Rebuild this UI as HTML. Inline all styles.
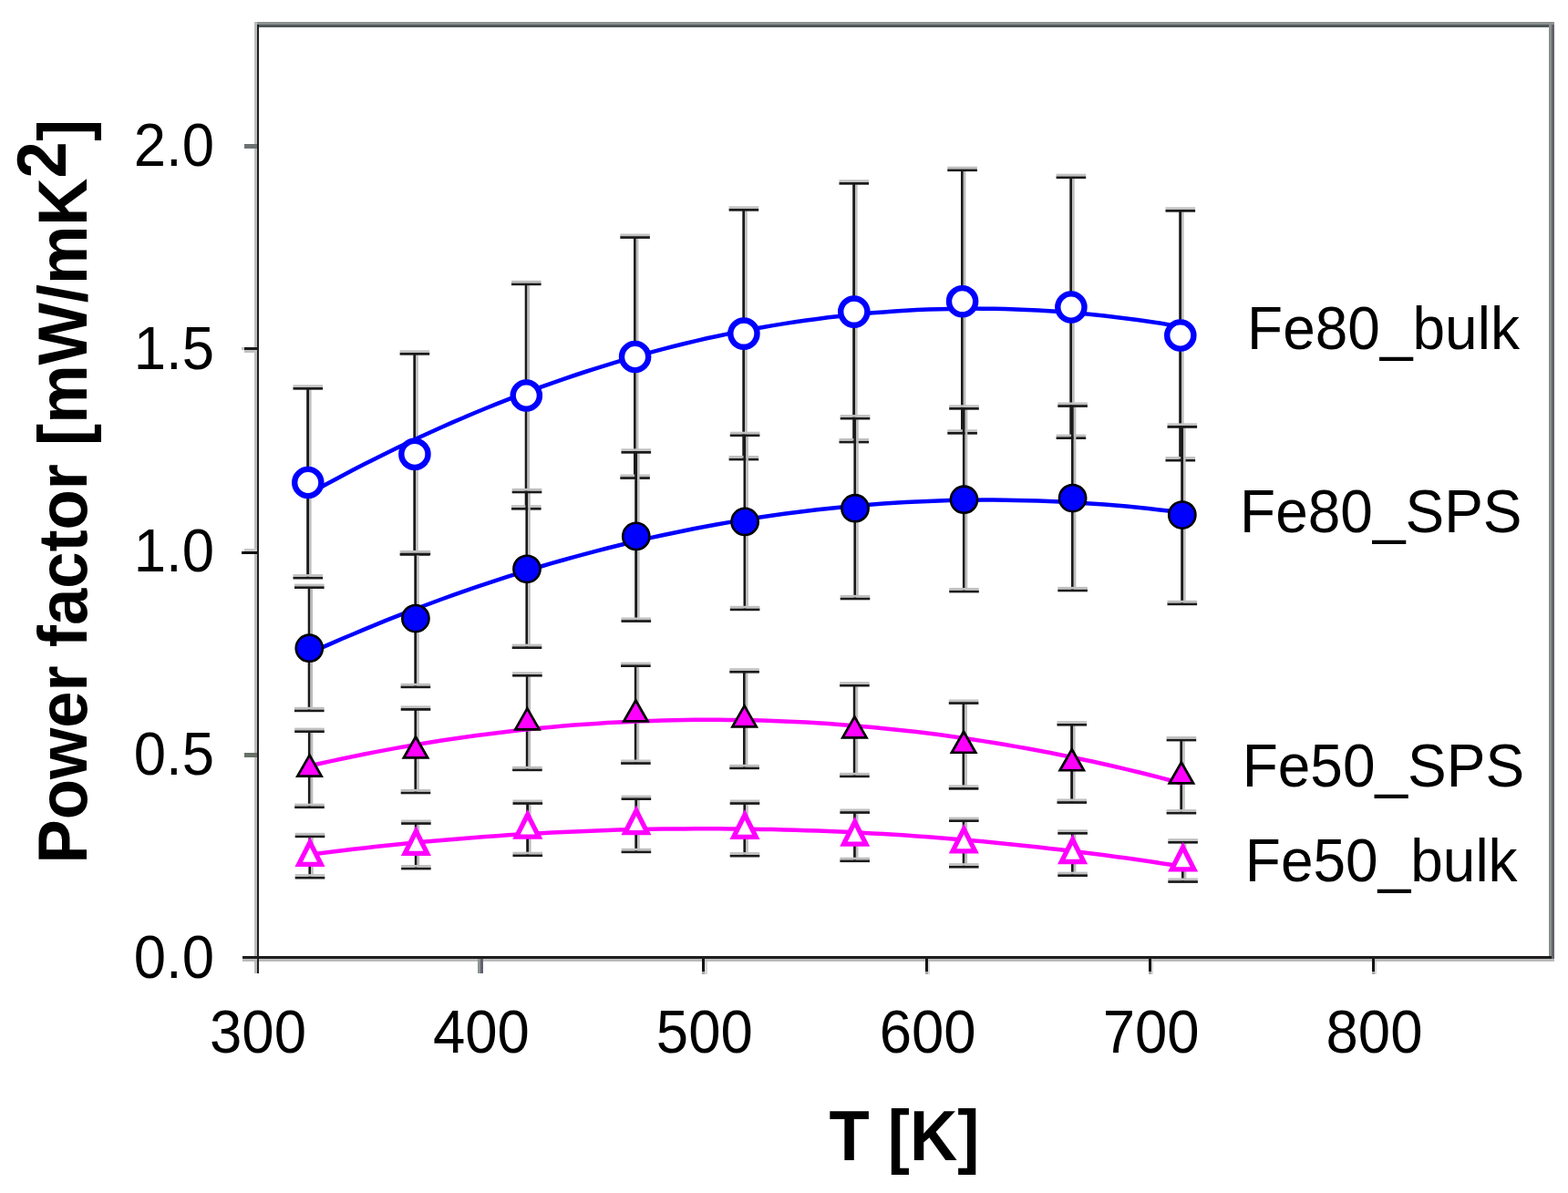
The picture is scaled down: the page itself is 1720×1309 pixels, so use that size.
<!DOCTYPE html><html><head><meta charset="utf-8"><title>Power factor vs T</title><style>html,body{margin:0;padding:0;background:#fff;}svg{display:block;}</style></head><body>
<svg width="1720" height="1309" viewBox="0 0 1720 1309">
<rect x="0" y="0" width="1720" height="1309" fill="#ffffff"/>
<g shape-rendering="crispEdges">
<rect x="279" y="24" width="1426" height="3" fill="#8c9292"/>
<rect x="282" y="27" width="1423" height="2.6" fill="#4f5757"/>
<rect x="1699.3" y="27" width="2.7" height="1025" fill="#8a9090"/>
<rect x="1702" y="27" width="2.7" height="1028" fill="#62646c"/>
<rect x="279" y="1049.2" width="1423" height="2.8" fill="#1e1e1e"/>
<rect x="279" y="1052" width="1426" height="2.8" fill="#bbbbbb"/>
<rect x="279.1" y="24" width="2.6" height="1044" fill="#bcbcbc"/>
<rect x="281.6" y="27" width="2.5" height="1041" fill="#1e1e1e"/>
<rect x="267.9" y="157.8" width="14" height="5.1" fill="#6c7272"/>
<rect x="268" y="381.1" width="14" height="2.8" fill="#1a1a1a"/>
<rect x="265.2" y="381.1" width="2.8" height="2.8" fill="#c4c4c4"/>
<rect x="268" y="383.9" width="14" height="2.7" fill="#c0c0c0"/>
<rect x="267.5" y="602.2" width="14.5" height="2.8" fill="#c8c8c8"/>
<rect x="265" y="605" width="17" height="2.7" fill="#111111"/>
<rect x="267.9" y="826" width="14" height="5" fill="#687068"/>
<rect x="265.5" y="1049.2" width="16.5" height="2.8" fill="#1e1e1e"/>
<rect x="265.5" y="1052" width="14" height="2.8" fill="#bbbbbb"/>
<rect x="524.2" y="1052" width="2.75" height="16.3" fill="#8a9494"/>
<rect x="526.9" y="1052" width="2.75" height="16.3" fill="#616170"/>
<rect x="770.0" y="1052" width="2.9" height="14" fill="#141414"/>
<rect x="770.0" y="1066" width="2.9" height="2.6" fill="#a8a8a8"/>
<rect x="772.9" y="1054.5" width="2.6" height="14" fill="#d8d8d8"/>
<rect x="1014.9" y="1052" width="2.9" height="14" fill="#141414"/>
<rect x="1014.9" y="1066" width="2.9" height="2.6" fill="#a8a8a8"/>
<rect x="1017.8" y="1054.5" width="2.6" height="14" fill="#d8d8d8"/>
<rect x="1259.8" y="1052" width="2.9" height="14" fill="#141414"/>
<rect x="1259.8" y="1066" width="2.9" height="2.6" fill="#a8a8a8"/>
<rect x="1262.7" y="1054.5" width="2.6" height="14" fill="#d8d8d8"/>
<rect x="1504.7" y="1052" width="2.9" height="14" fill="#141414"/>
<rect x="1504.7" y="1066" width="2.9" height="2.6" fill="#a8a8a8"/>
<rect x="1507.6" y="1054.5" width="2.6" height="14" fill="#d8d8d8"/>
</g>
<g font-family="'Liberation Sans', Arial, Helvetica, sans-serif" font-size="63.5" fill="#000">
<text transform="translate(235,1073.0) scale(1,1.045)" text-anchor="end">0.0</text>
<text transform="translate(235,850.2) scale(1,1.045)" text-anchor="end">0.5</text>
<text transform="translate(235,627.4) scale(1,1.045)" text-anchor="end">1.0</text>
<text transform="translate(235,404.6) scale(1,1.045)" text-anchor="end">1.5</text>
<text transform="translate(235,181.8) scale(1,1.045)" text-anchor="end">2.0</text>
<text transform="translate(283.0,1155.3) scale(1,1.045)" text-anchor="middle">300</text>
<text transform="translate(527.9,1155.3) scale(1,1.045)" text-anchor="middle">400</text>
<text transform="translate(772.8,1155.3) scale(1,1.045)" text-anchor="middle">500</text>
<text transform="translate(1017.7,1155.3) scale(1,1.045)" text-anchor="middle">600</text>
<text transform="translate(1262.6,1155.3) scale(1,1.045)" text-anchor="middle">700</text>
<text transform="translate(1507.5,1155.3) scale(1,1.045)" text-anchor="middle">800</text>
</g>
<g font-family="'Liberation Sans', Arial, Helvetica, sans-serif" font-size="64" fill="#000">
<text transform="translate(1368.1,383.1) scale(1,1.035)">Fe80_bulk</text>
<text transform="translate(1360.1,584.2) scale(1,1.035)">Fe80_SPS</text>
<text transform="translate(1362.7,863.3) scale(1,1.035)">Fe50_SPS</text>
<text transform="translate(1365.8,966.9) scale(1,1.035)">Fe50_bulk</text>
</g>
<text transform="translate(991.9,1272.7) scale(1,1.075)" text-anchor="middle" font-family="'Liberation Sans', Arial, Helvetica, sans-serif" font-size="72.4" font-weight="bold" fill="#000">T [K]</text>
<text transform="translate(95.3,947.5) rotate(-90) scale(1,1.05)" font-family="'Liberation Sans', Arial, Helvetica, sans-serif" font-size="72.4" font-weight="bold" fill="#000">Power factor [mW/mK<tspan dy="-22.5">2</tspan><tspan dy="22.5">]</tspan></text>
<g>
<rect x="336.2" y="426.0" width="2.8" height="207.8" fill="#1a1a1a"/><rect x="339.0" y="427.4" width="2.6" height="205.0" fill="#bdbdbd"/><rect x="321.5" y="424.9" width="32.6" height="2.8" fill="#1a1a1a"/><rect x="321.5" y="422.3" width="32.6" height="2.6" fill="#c0c0c0"/><rect x="321.5" y="632.7" width="32.6" height="2.8" fill="#1a1a1a"/><rect x="321.5" y="630.1" width="32.6" height="2.6" fill="#c0c0c0"/>
<rect x="453.3" y="388.0" width="2.8" height="220.0" fill="#1a1a1a"/><rect x="456.1" y="389.4" width="2.6" height="217.2" fill="#bdbdbd"/><rect x="438.6" y="386.9" width="32.6" height="2.8" fill="#1a1a1a"/><rect x="438.6" y="384.3" width="32.6" height="2.6" fill="#c0c0c0"/><rect x="438.6" y="606.9" width="32.6" height="2.8" fill="#1a1a1a"/><rect x="438.6" y="604.3" width="32.6" height="2.6" fill="#c0c0c0"/>
<rect x="575.7" y="311.5" width="2.8" height="246.4" fill="#1a1a1a"/><rect x="578.5" y="312.9" width="2.6" height="243.6" fill="#bdbdbd"/><rect x="561.0" y="310.4" width="32.6" height="2.8" fill="#1a1a1a"/><rect x="561.0" y="307.8" width="32.6" height="2.6" fill="#c0c0c0"/><rect x="561.0" y="556.8" width="32.6" height="2.8" fill="#1a1a1a"/><rect x="561.0" y="554.2" width="32.6" height="2.6" fill="#c0c0c0"/>
<rect x="695.0" y="260.2" width="2.8" height="264.0" fill="#1a1a1a"/><rect x="697.8" y="261.6" width="2.6" height="261.2" fill="#bdbdbd"/><rect x="680.3" y="259.1" width="32.6" height="2.8" fill="#1a1a1a"/><rect x="680.3" y="256.5" width="32.6" height="2.6" fill="#c0c0c0"/><rect x="680.3" y="523.1" width="32.6" height="2.8" fill="#1a1a1a"/><rect x="680.3" y="520.5" width="32.6" height="2.6" fill="#c0c0c0"/>
<rect x="814.3" y="230.0" width="2.8" height="273.7" fill="#1a1a1a"/><rect x="817.1" y="231.4" width="2.6" height="270.9" fill="#bdbdbd"/><rect x="799.6" y="228.9" width="32.6" height="2.8" fill="#1a1a1a"/><rect x="799.6" y="226.3" width="32.6" height="2.6" fill="#c0c0c0"/><rect x="799.6" y="502.6" width="32.6" height="2.8" fill="#1a1a1a"/><rect x="799.6" y="500.0" width="32.6" height="2.6" fill="#c0c0c0"/>
<rect x="935.2" y="201.0" width="2.8" height="283.7" fill="#1a1a1a"/><rect x="938.0" y="202.4" width="2.6" height="280.9" fill="#bdbdbd"/><rect x="920.5" y="199.9" width="32.6" height="2.8" fill="#1a1a1a"/><rect x="920.5" y="197.3" width="32.6" height="2.6" fill="#c0c0c0"/><rect x="920.5" y="483.6" width="32.6" height="2.8" fill="#1a1a1a"/><rect x="920.5" y="481.0" width="32.6" height="2.6" fill="#c0c0c0"/>
<rect x="1054.0" y="186.4" width="2.8" height="288.6" fill="#1a1a1a"/><rect x="1056.8" y="187.8" width="2.6" height="285.8" fill="#bdbdbd"/><rect x="1039.3" y="185.3" width="32.6" height="2.8" fill="#1a1a1a"/><rect x="1039.3" y="182.7" width="32.6" height="2.6" fill="#c0c0c0"/><rect x="1039.3" y="473.9" width="32.6" height="2.8" fill="#1a1a1a"/><rect x="1039.3" y="471.3" width="32.6" height="2.6" fill="#c0c0c0"/>
<rect x="1173.3" y="194.4" width="2.8" height="285.9" fill="#1a1a1a"/><rect x="1176.1" y="195.8" width="2.6" height="283.1" fill="#bdbdbd"/><rect x="1158.6" y="193.3" width="32.6" height="2.8" fill="#1a1a1a"/><rect x="1158.6" y="190.7" width="32.6" height="2.6" fill="#c0c0c0"/><rect x="1158.6" y="479.2" width="32.6" height="2.8" fill="#1a1a1a"/><rect x="1158.6" y="476.6" width="32.6" height="2.6" fill="#c0c0c0"/>
<rect x="1293.2" y="231.0" width="2.8" height="273.8" fill="#1a1a1a"/><rect x="1296.0" y="232.4" width="2.6" height="271.0" fill="#bdbdbd"/><rect x="1278.5" y="229.9" width="32.6" height="2.8" fill="#1a1a1a"/><rect x="1278.5" y="227.3" width="32.6" height="2.6" fill="#c0c0c0"/><rect x="1278.5" y="503.7" width="32.6" height="2.8" fill="#1a1a1a"/><rect x="1278.5" y="501.1" width="32.6" height="2.6" fill="#c0c0c0"/>
<rect x="337.7" y="644.3" width="2.8" height="135.2" fill="#1a1a1a"/><rect x="340.5" y="645.7" width="2.6" height="132.4" fill="#bdbdbd"/><rect x="323.0" y="643.2" width="32.6" height="2.8" fill="#1a1a1a"/><rect x="323.0" y="640.6" width="32.6" height="2.6" fill="#c0c0c0"/><rect x="323.0" y="778.4" width="32.6" height="2.8" fill="#1a1a1a"/><rect x="323.0" y="775.8" width="32.6" height="2.6" fill="#c0c0c0"/>
<rect x="454.3" y="607.6" width="2.8" height="145.9" fill="#1a1a1a"/><rect x="457.1" y="609.0" width="2.6" height="143.1" fill="#bdbdbd"/><rect x="439.6" y="606.5" width="32.6" height="2.8" fill="#1a1a1a"/><rect x="439.6" y="603.9" width="32.6" height="2.6" fill="#c0c0c0"/><rect x="439.6" y="752.4" width="32.6" height="2.8" fill="#1a1a1a"/><rect x="439.6" y="749.8" width="32.6" height="2.6" fill="#c0c0c0"/>
<rect x="576.4" y="539.6" width="2.8" height="170.7" fill="#1a1a1a"/><rect x="579.2" y="541.0" width="2.6" height="167.9" fill="#bdbdbd"/><rect x="561.7" y="538.5" width="32.6" height="2.8" fill="#1a1a1a"/><rect x="561.7" y="535.9" width="32.6" height="2.6" fill="#c0c0c0"/><rect x="561.7" y="709.2" width="32.6" height="2.8" fill="#1a1a1a"/><rect x="561.7" y="706.6" width="32.6" height="2.6" fill="#c0c0c0"/>
<rect x="696.2" y="496.0" width="2.8" height="185.2" fill="#1a1a1a"/><rect x="699.0" y="497.4" width="2.6" height="182.4" fill="#bdbdbd"/><rect x="681.5" y="494.9" width="32.6" height="2.8" fill="#1a1a1a"/><rect x="681.5" y="492.3" width="32.6" height="2.6" fill="#c0c0c0"/><rect x="681.5" y="680.1" width="32.6" height="2.8" fill="#1a1a1a"/><rect x="681.5" y="677.5" width="32.6" height="2.6" fill="#c0c0c0"/>
<rect x="815.5" y="477.4" width="2.8" height="191.1" fill="#1a1a1a"/><rect x="818.3" y="478.8" width="2.6" height="188.3" fill="#bdbdbd"/><rect x="800.8" y="476.3" width="32.6" height="2.8" fill="#1a1a1a"/><rect x="800.8" y="473.7" width="32.6" height="2.6" fill="#c0c0c0"/><rect x="800.8" y="667.4" width="32.6" height="2.8" fill="#1a1a1a"/><rect x="800.8" y="664.8" width="32.6" height="2.6" fill="#c0c0c0"/>
<rect x="936.4" y="458.8" width="2.8" height="197.8" fill="#1a1a1a"/><rect x="939.2" y="460.2" width="2.6" height="195.0" fill="#bdbdbd"/><rect x="921.7" y="457.7" width="32.6" height="2.8" fill="#1a1a1a"/><rect x="921.7" y="455.1" width="32.6" height="2.6" fill="#c0c0c0"/><rect x="921.7" y="655.5" width="32.6" height="2.8" fill="#1a1a1a"/><rect x="921.7" y="652.9" width="32.6" height="2.6" fill="#c0c0c0"/>
<rect x="1055.9" y="448.0" width="2.8" height="200.7" fill="#1a1a1a"/><rect x="1058.7" y="449.4" width="2.6" height="197.9" fill="#bdbdbd"/><rect x="1041.2" y="446.9" width="32.6" height="2.8" fill="#1a1a1a"/><rect x="1041.2" y="444.3" width="32.6" height="2.6" fill="#c0c0c0"/><rect x="1041.2" y="647.6" width="32.6" height="2.8" fill="#1a1a1a"/><rect x="1041.2" y="645.0" width="32.6" height="2.6" fill="#c0c0c0"/>
<rect x="1175.0" y="445.2" width="2.8" height="202.4" fill="#1a1a1a"/><rect x="1177.8" y="446.6" width="2.6" height="199.6" fill="#bdbdbd"/><rect x="1160.3" y="444.1" width="32.6" height="2.8" fill="#1a1a1a"/><rect x="1160.3" y="441.5" width="32.6" height="2.6" fill="#c0c0c0"/><rect x="1160.3" y="646.5" width="32.6" height="2.8" fill="#1a1a1a"/><rect x="1160.3" y="643.9" width="32.6" height="2.6" fill="#c0c0c0"/>
<rect x="1295.2" y="468.1" width="2.8" height="194.4" fill="#1a1a1a"/><rect x="1298.0" y="469.5" width="2.6" height="191.6" fill="#bdbdbd"/><rect x="1280.5" y="467.0" width="32.6" height="2.8" fill="#1a1a1a"/><rect x="1280.5" y="464.4" width="32.6" height="2.6" fill="#c0c0c0"/><rect x="1280.5" y="661.4" width="32.6" height="2.8" fill="#1a1a1a"/><rect x="1280.5" y="658.8" width="32.6" height="2.6" fill="#c0c0c0"/>
<rect x="337.9" y="802.3" width="2.8" height="83.1" fill="#1a1a1a"/><rect x="340.7" y="803.7" width="2.6" height="80.3" fill="#bdbdbd"/><rect x="323.2" y="801.2" width="32.6" height="2.8" fill="#1a1a1a"/><rect x="323.2" y="798.6" width="32.6" height="2.6" fill="#c0c0c0"/><rect x="323.2" y="884.3" width="32.6" height="2.8" fill="#1a1a1a"/><rect x="323.2" y="881.7" width="32.6" height="2.6" fill="#c0c0c0"/>
<rect x="454.4" y="778.1" width="2.8" height="91.5" fill="#1a1a1a"/><rect x="457.2" y="779.5" width="2.6" height="88.7" fill="#bdbdbd"/><rect x="439.7" y="777.0" width="32.6" height="2.8" fill="#1a1a1a"/><rect x="439.7" y="774.4" width="32.6" height="2.6" fill="#c0c0c0"/><rect x="439.7" y="868.5" width="32.6" height="2.8" fill="#1a1a1a"/><rect x="439.7" y="865.9" width="32.6" height="2.6" fill="#c0c0c0"/>
<rect x="576.8" y="740.9" width="2.8" height="103.6" fill="#1a1a1a"/><rect x="579.6" y="742.3" width="2.6" height="100.8" fill="#bdbdbd"/><rect x="562.1" y="739.8" width="32.6" height="2.8" fill="#1a1a1a"/><rect x="562.1" y="737.2" width="32.6" height="2.6" fill="#c0c0c0"/><rect x="562.1" y="843.4" width="32.6" height="2.8" fill="#1a1a1a"/><rect x="562.1" y="840.8" width="32.6" height="2.6" fill="#c0c0c0"/>
<rect x="695.8" y="730.3" width="2.8" height="106.9" fill="#1a1a1a"/><rect x="698.6" y="731.7" width="2.6" height="104.1" fill="#bdbdbd"/><rect x="681.1" y="729.2" width="32.6" height="2.8" fill="#1a1a1a"/><rect x="681.1" y="726.6" width="32.6" height="2.6" fill="#c0c0c0"/><rect x="681.1" y="836.1" width="32.6" height="2.8" fill="#1a1a1a"/><rect x="681.1" y="833.5" width="32.6" height="2.6" fill="#c0c0c0"/>
<rect x="815.0" y="736.9" width="2.8" height="105.6" fill="#1a1a1a"/><rect x="817.8" y="738.3" width="2.6" height="102.8" fill="#bdbdbd"/><rect x="800.3" y="735.8" width="32.6" height="2.8" fill="#1a1a1a"/><rect x="800.3" y="733.2" width="32.6" height="2.6" fill="#c0c0c0"/><rect x="800.3" y="841.4" width="32.6" height="2.8" fill="#1a1a1a"/><rect x="800.3" y="838.8" width="32.6" height="2.6" fill="#c0c0c0"/>
<rect x="935.8" y="751.8" width="2.8" height="99.7" fill="#1a1a1a"/><rect x="938.6" y="753.2" width="2.6" height="96.9" fill="#bdbdbd"/><rect x="921.1" y="750.7" width="32.6" height="2.8" fill="#1a1a1a"/><rect x="921.1" y="748.1" width="32.6" height="2.6" fill="#c0c0c0"/><rect x="921.1" y="850.4" width="32.6" height="2.8" fill="#1a1a1a"/><rect x="921.1" y="847.8" width="32.6" height="2.6" fill="#c0c0c0"/>
<rect x="1055.5" y="771.2" width="2.8" height="93.8" fill="#1a1a1a"/><rect x="1058.3" y="772.6" width="2.6" height="91.0" fill="#bdbdbd"/><rect x="1040.8" y="770.1" width="32.6" height="2.8" fill="#1a1a1a"/><rect x="1040.8" y="767.5" width="32.6" height="2.6" fill="#c0c0c0"/><rect x="1040.8" y="863.9" width="32.6" height="2.8" fill="#1a1a1a"/><rect x="1040.8" y="861.3" width="32.6" height="2.6" fill="#c0c0c0"/>
<rect x="1174.2" y="794.9" width="2.8" height="85.3" fill="#1a1a1a"/><rect x="1177.0" y="796.3" width="2.6" height="82.5" fill="#bdbdbd"/><rect x="1159.5" y="793.8" width="32.6" height="2.8" fill="#1a1a1a"/><rect x="1159.5" y="791.2" width="32.6" height="2.6" fill="#c0c0c0"/><rect x="1159.5" y="879.1" width="32.6" height="2.8" fill="#1a1a1a"/><rect x="1159.5" y="876.5" width="32.6" height="2.6" fill="#c0c0c0"/>
<rect x="1294.3" y="811.7" width="2.8" height="80.1" fill="#1a1a1a"/><rect x="1297.1" y="813.1" width="2.6" height="77.3" fill="#bdbdbd"/><rect x="1279.6" y="810.6" width="32.6" height="2.8" fill="#1a1a1a"/><rect x="1279.6" y="808.0" width="32.6" height="2.6" fill="#c0c0c0"/><rect x="1279.6" y="890.7" width="32.6" height="2.8" fill="#1a1a1a"/><rect x="1279.6" y="888.1" width="32.6" height="2.6" fill="#c0c0c0"/>
<rect x="338.4" y="917.5" width="2.8" height="45.3" fill="#1a1a1a"/><rect x="341.2" y="918.9" width="2.6" height="42.5" fill="#bdbdbd"/><rect x="323.7" y="916.4" width="32.6" height="2.8" fill="#1a1a1a"/><rect x="323.7" y="913.8" width="32.6" height="2.6" fill="#c0c0c0"/><rect x="323.7" y="961.7" width="32.6" height="2.8" fill="#1a1a1a"/><rect x="323.7" y="959.1" width="32.6" height="2.6" fill="#c0c0c0"/>
<rect x="454.8" y="903.2" width="2.8" height="49.5" fill="#1a1a1a"/><rect x="457.6" y="904.6" width="2.6" height="46.7" fill="#bdbdbd"/><rect x="440.1" y="902.1" width="32.6" height="2.8" fill="#1a1a1a"/><rect x="440.1" y="899.5" width="32.6" height="2.6" fill="#c0c0c0"/><rect x="440.1" y="951.6" width="32.6" height="2.8" fill="#1a1a1a"/><rect x="440.1" y="949.0" width="32.6" height="2.6" fill="#c0c0c0"/>
<rect x="577.2" y="881.2" width="2.8" height="57.2" fill="#1a1a1a"/><rect x="580.0" y="882.6" width="2.6" height="54.4" fill="#bdbdbd"/><rect x="562.5" y="880.1" width="32.6" height="2.8" fill="#1a1a1a"/><rect x="562.5" y="877.5" width="32.6" height="2.6" fill="#c0c0c0"/><rect x="562.5" y="937.3" width="32.6" height="2.8" fill="#1a1a1a"/><rect x="562.5" y="934.7" width="32.6" height="2.6" fill="#c0c0c0"/>
<rect x="696.3" y="876.3" width="2.8" height="58.2" fill="#1a1a1a"/><rect x="699.1" y="877.7" width="2.6" height="55.4" fill="#bdbdbd"/><rect x="681.6" y="875.2" width="32.6" height="2.8" fill="#1a1a1a"/><rect x="681.6" y="872.6" width="32.6" height="2.6" fill="#c0c0c0"/><rect x="681.6" y="933.4" width="32.6" height="2.8" fill="#1a1a1a"/><rect x="681.6" y="930.8" width="32.6" height="2.6" fill="#c0c0c0"/>
<rect x="815.4" y="881.2" width="2.8" height="57.6" fill="#1a1a1a"/><rect x="818.2" y="882.6" width="2.6" height="54.8" fill="#bdbdbd"/><rect x="800.7" y="880.1" width="32.6" height="2.8" fill="#1a1a1a"/><rect x="800.7" y="877.5" width="32.6" height="2.6" fill="#c0c0c0"/><rect x="800.7" y="937.7" width="32.6" height="2.8" fill="#1a1a1a"/><rect x="800.7" y="935.1" width="32.6" height="2.6" fill="#c0c0c0"/>
<rect x="936.1" y="891.2" width="2.8" height="53.2" fill="#1a1a1a"/><rect x="938.9" y="892.6" width="2.6" height="50.4" fill="#bdbdbd"/><rect x="921.4" y="890.1" width="32.6" height="2.8" fill="#1a1a1a"/><rect x="921.4" y="887.5" width="32.6" height="2.6" fill="#c0c0c0"/><rect x="921.4" y="943.3" width="32.6" height="2.8" fill="#1a1a1a"/><rect x="921.4" y="940.7" width="32.6" height="2.6" fill="#c0c0c0"/>
<rect x="1055.7" y="900.3" width="2.8" height="50.6" fill="#1a1a1a"/><rect x="1058.5" y="901.7" width="2.6" height="47.8" fill="#bdbdbd"/><rect x="1041.0" y="899.2" width="32.6" height="2.8" fill="#1a1a1a"/><rect x="1041.0" y="896.6" width="32.6" height="2.6" fill="#c0c0c0"/><rect x="1041.0" y="949.8" width="32.6" height="2.8" fill="#1a1a1a"/><rect x="1041.0" y="947.2" width="32.6" height="2.6" fill="#c0c0c0"/>
<rect x="1175.0" y="914.0" width="2.8" height="46.3" fill="#1a1a1a"/><rect x="1177.8" y="915.4" width="2.6" height="43.5" fill="#bdbdbd"/><rect x="1160.3" y="912.9" width="32.6" height="2.8" fill="#1a1a1a"/><rect x="1160.3" y="910.3" width="32.6" height="2.6" fill="#c0c0c0"/><rect x="1160.3" y="959.2" width="32.6" height="2.8" fill="#1a1a1a"/><rect x="1160.3" y="956.6" width="32.6" height="2.6" fill="#c0c0c0"/>
<rect x="1296.0" y="923.9" width="2.8" height="43.3" fill="#1a1a1a"/><rect x="1298.8" y="925.3" width="2.6" height="40.5" fill="#bdbdbd"/><rect x="1281.3" y="922.8" width="32.6" height="2.8" fill="#1a1a1a"/><rect x="1281.3" y="920.2" width="32.6" height="2.6" fill="#c0c0c0"/><rect x="1281.3" y="966.1" width="32.6" height="2.8" fill="#1a1a1a"/><rect x="1281.3" y="963.5" width="32.6" height="2.6" fill="#c0c0c0"/>
</g>
<g fill="none" stroke-width="4.5" stroke-linejoin="round">
<path d="M339.0 541.7 L351.1 535.0 L363.2 528.4 L375.4 521.9 L387.5 515.6 L399.6 509.3 L411.7 503.2 L423.8 497.2 L435.9 491.3 L448.1 485.5 L460.2 479.8 L472.3 474.2 L484.4 468.7 L496.5 463.4 L508.6 458.2 L520.8 453.0 L532.9 448.0 L545.0 443.1 L557.1 438.3 L569.2 433.6 L581.4 429.1 L593.5 424.6 L605.6 420.3 L617.7 416.1 L629.8 412.0 L641.9 408.0 L654.1 404.1 L666.2 400.3 L678.3 396.6 L690.4 393.1 L702.5 389.6 L714.6 386.3 L726.8 383.1 L738.9 380.0 L751.0 377.0 L763.1 374.1 L775.2 371.3 L787.4 368.7 L799.5 366.1 L811.6 363.7 L823.7 361.4 L835.8 359.2 L847.9 357.1 L860.1 355.1 L872.2 353.3 L884.3 351.5 L896.4 349.9 L908.5 348.3 L920.7 346.9 L932.8 345.6 L944.9 344.4 L957.0 343.3 L969.1 342.4 L981.2 341.5 L993.4 340.8 L1005.5 340.1 L1017.6 339.6 L1029.7 339.2 L1041.8 338.9 L1053.9 338.7 L1066.1 338.6 L1078.2 338.7 L1090.3 338.8 L1102.4 339.1 L1114.5 339.5 L1126.7 340.0 L1138.8 340.6 L1150.9 341.3 L1163.0 342.1 L1175.1 343.1 L1187.2 344.1 L1199.4 345.3 L1211.5 346.6 L1223.6 347.9 L1235.7 349.4 L1247.8 351.1 L1259.9 352.8 L1272.1 354.6 L1284.2 356.6 L1296.3 358.6" stroke="#0000ff"/>
<path d="M339.0 716.8 L351.1 711.4 L363.2 706.1 L375.4 700.8 L387.5 695.7 L399.6 690.6 L411.7 685.6 L423.8 680.7 L435.9 675.9 L448.1 671.2 L460.2 666.5 L472.3 662.0 L484.4 657.5 L496.5 653.2 L508.6 648.9 L520.8 644.7 L532.9 640.6 L545.0 636.6 L557.1 632.7 L569.2 628.9 L581.4 625.1 L593.5 621.5 L605.6 617.9 L617.7 614.5 L629.8 611.1 L641.9 607.8 L654.1 604.6 L666.2 601.5 L678.3 598.5 L690.4 595.5 L702.5 592.7 L714.6 589.9 L726.8 587.2 L738.9 584.7 L751.0 582.2 L763.1 579.8 L775.2 577.5 L787.4 575.2 L799.5 573.1 L811.6 571.1 L823.7 569.1 L835.8 567.2 L847.9 565.5 L860.1 563.8 L872.2 562.2 L884.3 560.7 L896.4 559.2 L908.5 557.9 L920.7 556.7 L932.8 555.5 L944.9 554.4 L957.0 553.5 L969.1 552.6 L981.2 551.8 L993.4 551.1 L1005.5 550.5 L1017.6 549.9 L1029.7 549.5 L1041.8 549.1 L1053.9 548.9 L1066.1 548.7 L1078.2 548.6 L1090.3 548.6 L1102.4 548.7 L1114.5 548.9 L1126.7 549.2 L1138.8 549.5 L1150.9 550.0 L1163.0 550.5 L1175.1 551.2 L1187.2 551.9 L1199.4 552.7 L1211.5 553.6 L1223.6 554.6 L1235.7 555.6 L1247.8 556.8 L1259.9 558.1 L1272.1 559.4 L1284.2 560.8 L1296.3 562.4" stroke="#0000ff"/>
<path d="M339.0 840.5 L351.1 837.8 L363.2 835.1 L375.4 832.5 L387.5 830.0 L399.6 827.5 L411.7 825.1 L423.8 822.9 L435.9 820.6 L448.1 818.5 L460.2 816.4 L472.3 814.5 L484.4 812.5 L496.5 810.7 L508.6 809.0 L520.8 807.3 L532.9 805.7 L545.0 804.2 L557.1 802.7 L569.2 801.3 L581.4 800.0 L593.5 798.8 L605.6 797.7 L617.7 796.6 L629.8 795.6 L641.9 794.7 L654.1 793.9 L666.2 793.1 L678.3 792.5 L690.4 791.9 L702.5 791.3 L714.6 790.9 L726.8 790.5 L738.9 790.2 L751.0 790.0 L763.1 789.8 L775.2 789.8 L787.4 789.8 L799.5 789.9 L811.6 790.0 L823.7 790.3 L835.8 790.6 L847.9 791.0 L860.1 791.5 L872.2 792.0 L884.3 792.6 L896.4 793.3 L908.5 794.1 L920.7 795.0 L932.8 795.9 L944.9 796.9 L957.0 798.0 L969.1 799.2 L981.2 800.4 L993.4 801.7 L1005.5 803.1 L1017.6 804.6 L1029.7 806.1 L1041.8 807.7 L1053.9 809.4 L1066.1 811.2 L1078.2 813.1 L1090.3 815.0 L1102.4 817.0 L1114.5 819.1 L1126.7 821.2 L1138.8 823.5 L1150.9 825.8 L1163.0 828.2 L1175.1 830.6 L1187.2 833.2 L1199.4 835.8 L1211.5 838.5 L1223.6 841.3 L1235.7 844.1 L1247.8 847.0 L1259.9 850.0 L1272.1 853.1 L1284.2 856.3 L1296.3 859.5" stroke="#ff00ff"/>
<path d="M339.0 937.8 L351.1 936.2 L363.2 934.7 L375.4 933.2 L387.5 931.8 L399.6 930.4 L411.7 929.0 L423.8 927.7 L435.9 926.5 L448.1 925.3 L460.2 924.1 L472.3 923.0 L484.4 921.9 L496.5 920.9 L508.6 919.9 L520.8 918.9 L532.9 918.0 L545.0 917.2 L557.1 916.3 L569.2 915.6 L581.4 914.8 L593.5 914.2 L605.6 913.5 L617.7 912.9 L629.8 912.4 L641.9 911.9 L654.1 911.4 L666.2 911.0 L678.3 910.6 L690.4 910.3 L702.5 910.0 L714.6 909.8 L726.8 909.6 L738.9 909.5 L751.0 909.4 L763.1 909.3 L775.2 909.3 L787.4 909.3 L799.5 909.4 L811.6 909.5 L823.7 909.7 L835.8 909.9 L847.9 910.1 L860.1 910.4 L872.2 910.8 L884.3 911.2 L896.4 911.6 L908.5 912.1 L920.7 912.6 L932.8 913.1 L944.9 913.7 L957.0 914.4 L969.1 915.1 L981.2 915.8 L993.4 916.6 L1005.5 917.4 L1017.6 918.3 L1029.7 919.2 L1041.8 920.2 L1053.9 921.2 L1066.1 922.3 L1078.2 923.3 L1090.3 924.5 L1102.4 925.7 L1114.5 926.9 L1126.7 928.2 L1138.8 929.5 L1150.9 930.9 L1163.0 932.3 L1175.1 933.7 L1187.2 935.2 L1199.4 936.7 L1211.5 938.3 L1223.6 940.0 L1235.7 941.6 L1247.8 943.3 L1259.9 945.1 L1272.1 946.9 L1284.2 948.8 L1296.3 950.6" stroke="#ff00ff"/>
</g>
<circle cx="337.8" cy="529.5" r="14.6" fill="#fff" stroke="#0000ff" stroke-width="6.4"/>
<circle cx="454.9" cy="498.3" r="14.6" fill="#fff" stroke="#0000ff" stroke-width="6.4"/>
<circle cx="577.3" cy="434.0" r="14.6" fill="#fff" stroke="#0000ff" stroke-width="6.4"/>
<circle cx="696.6" cy="391.5" r="14.6" fill="#fff" stroke="#0000ff" stroke-width="6.4"/>
<circle cx="815.9" cy="366.1" r="14.6" fill="#fff" stroke="#0000ff" stroke-width="6.4"/>
<circle cx="936.8" cy="342.1" r="14.6" fill="#fff" stroke="#0000ff" stroke-width="6.4"/>
<circle cx="1055.6" cy="330.7" r="14.6" fill="#fff" stroke="#0000ff" stroke-width="6.4"/>
<circle cx="1174.9" cy="337.0" r="14.6" fill="#fff" stroke="#0000ff" stroke-width="6.4"/>
<circle cx="1294.8" cy="368.0" r="14.6" fill="#fff" stroke="#0000ff" stroke-width="6.4"/>
<circle cx="339.3" cy="711.2" r="14.6" fill="#0000ff" stroke="#000" stroke-width="2.6"/>
<circle cx="455.9" cy="678.6" r="14.6" fill="#0000ff" stroke="#000" stroke-width="2.6"/>
<circle cx="578.0" cy="624.3" r="14.6" fill="#0000ff" stroke="#000" stroke-width="2.6"/>
<circle cx="697.8" cy="588.4" r="14.6" fill="#0000ff" stroke="#000" stroke-width="2.6"/>
<circle cx="817.1" cy="572.4" r="14.6" fill="#0000ff" stroke="#000" stroke-width="2.6"/>
<circle cx="938.0" cy="557.7" r="14.6" fill="#0000ff" stroke="#000" stroke-width="2.6"/>
<circle cx="1057.5" cy="548.2" r="14.6" fill="#0000ff" stroke="#000" stroke-width="2.6"/>
<circle cx="1176.6" cy="546.6" r="14.6" fill="#0000ff" stroke="#000" stroke-width="2.6"/>
<circle cx="1296.8" cy="565.1" r="14.6" fill="#0000ff" stroke="#000" stroke-width="2.6"/>
<polygon points="339.50,828.57 326.35,851.57 352.65,851.57" fill="#ff00ff" stroke="#000" stroke-width="2.7" stroke-linejoin="miter"/>
<polygon points="456.00,808.47 442.85,831.47 469.15,831.47" fill="#ff00ff" stroke="#000" stroke-width="2.7" stroke-linejoin="miter"/>
<polygon points="578.40,777.37 565.25,800.37 591.55,800.37" fill="#ff00ff" stroke="#000" stroke-width="2.7" stroke-linejoin="miter"/>
<polygon points="697.40,768.47 684.25,791.47 710.55,791.47" fill="#ff00ff" stroke="#000" stroke-width="2.7" stroke-linejoin="miter"/>
<polygon points="816.60,774.37 803.45,797.37 829.75,797.37" fill="#ff00ff" stroke="#000" stroke-width="2.7" stroke-linejoin="miter"/>
<polygon points="937.40,786.37 924.25,809.37 950.55,809.37" fill="#ff00ff" stroke="#000" stroke-width="2.7" stroke-linejoin="miter"/>
<polygon points="1057.10,802.77 1043.95,825.77 1070.25,825.77" fill="#ff00ff" stroke="#000" stroke-width="2.7" stroke-linejoin="miter"/>
<polygon points="1175.80,822.27 1162.65,845.27 1188.95,845.27" fill="#ff00ff" stroke="#000" stroke-width="2.7" stroke-linejoin="miter"/>
<polygon points="1295.90,836.47 1282.75,859.47 1309.05,859.47" fill="#ff00ff" stroke="#000" stroke-width="2.7" stroke-linejoin="miter"/>
<polygon points="340.00,924.10 327.75,948.40 352.25,948.40" fill="#fff" stroke="#ff00ff" stroke-width="5.3" stroke-linejoin="miter" stroke-miterlimit="10"/>
<polygon points="456.40,912.00 444.15,936.30 468.65,936.30" fill="#fff" stroke="#ff00ff" stroke-width="5.3" stroke-linejoin="miter" stroke-miterlimit="10"/>
<polygon points="578.80,893.80 566.55,918.10 591.05,918.10" fill="#fff" stroke="#ff00ff" stroke-width="5.3" stroke-linejoin="miter" stroke-miterlimit="10"/>
<polygon points="697.90,889.40 685.65,913.70 710.15,913.70" fill="#fff" stroke="#ff00ff" stroke-width="5.3" stroke-linejoin="miter" stroke-miterlimit="10"/>
<polygon points="817.00,894.00 804.75,918.30 829.25,918.30" fill="#fff" stroke="#ff00ff" stroke-width="5.3" stroke-linejoin="miter" stroke-miterlimit="10"/>
<polygon points="937.70,901.80 925.45,926.10 949.95,926.10" fill="#fff" stroke="#ff00ff" stroke-width="5.3" stroke-linejoin="miter" stroke-miterlimit="10"/>
<polygon points="1057.30,909.60 1045.05,933.90 1069.55,933.90" fill="#fff" stroke="#ff00ff" stroke-width="5.3" stroke-linejoin="miter" stroke-miterlimit="10"/>
<polygon points="1176.60,921.20 1164.35,945.50 1188.85,945.50" fill="#fff" stroke="#ff00ff" stroke-width="5.3" stroke-linejoin="miter" stroke-miterlimit="10"/>
<polygon points="1297.60,929.60 1285.35,953.90 1309.85,953.90" fill="#fff" stroke="#ff00ff" stroke-width="5.3" stroke-linejoin="miter" stroke-miterlimit="10"/>
</svg></body></html>
